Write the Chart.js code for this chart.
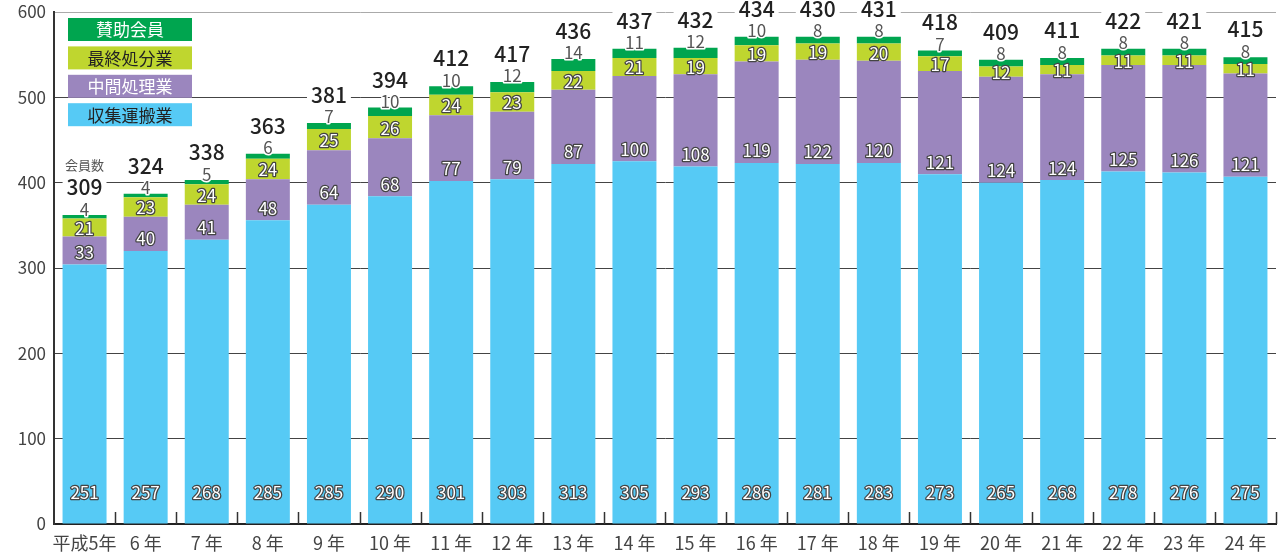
<!DOCTYPE html>
<html lang="ja">
<head>
<meta charset="utf-8">
<script src="https://cdn.jsdelivr.net/npm/chart.js@4"></script>
<style>
html, body { margin: 0; padding: 0; background: #fff; }
#wrap { width: 1280px; height: 556px; }
</style>
</head>
<body>
<div id="wrap"><canvas id="chart" width="1280" height="556"></canvas></div>
<script>
// 年度
const years = ['平成5年', '6 年', '7 年', '8 年', '9 年', '10 年', '11 年', '12 年', '13 年', '14 年',
               '15 年', '16 年', '17 年', '18 年', '19 年', '20 年', '21 年', '22 年', '23 年', '24 年'];

// 各業種の会員数（図中の数字）
const collection   = [251, 257, 268, 285, 285, 290, 301, 303, 313, 305, 293, 286, 281, 283, 273, 265, 268, 278, 276, 275];
const intermediate = [33, 40, 41, 48, 64, 68, 77, 79, 87, 100, 108, 119, 122, 120, 121, 124, 124, 125, 126, 121];
const disposal     = [21, 23, 24, 24, 25, 26, 24, 23, 22, 21, 19, 19, 19, 20, 17, 12, 11, 11, 11, 11];
const supporting   = [4, 4, 5, 6, 7, 10, 10, 12, 14, 11, 12, 10, 8, 8, 7, 8, 8, 8, 8, 8];
const totals       = [309, 324, 338, 363, 381, 394, 412, 417, 436, 437, 432, 434, 430, 431, 418, 409, 411, 422, 421, 415];

// 収集運搬業の棒の高さ（目盛りから読んだ値、図の数字とは一致しない）
const collectionBar = [304, 320, 333, 356, 374, 384, 402, 404, 422, 425, 419, 423, 422, 423, 410, 400, 403, 413, 412, 407];

const yTicks = [0, 100, 200, 300, 400, 500, 600];

const FONT = '"Noto Sans CJK JP", "Noto Sans", sans-serif';
const colors = {
    collection: '#56CAF5',
    intermediate: '#9B86BE',
    disposal: '#BFD62F',
    supporting: '#00A54F'
};

// 縁取り文字
function outlined(ctx, text, x, y, fill, stroke, lw) {
    ctx.lineJoin = 'round';
    ctx.lineWidth = lw;
    ctx.strokeStyle = stroke;
    ctx.strokeText(text, x, y);
    ctx.fillStyle = fill;
    ctx.fillText(text, x, y);
}

const legendItems = [
    { text: '賛助会員', color: colors.supporting, textColor: '#fff' },
    { text: '最終処分業', color: colors.disposal, textColor: '#222' },
    { text: '中間処理業', color: colors.intermediate, textColor: '#fff' },
    { text: '収集運搬業', color: colors.collection, textColor: '#222' }
];

const labelPlugin = {
    id: 'barLabels',
    afterDatasetsDraw(chart) {
        const { ctx, scales: { x, y } } = chart;
        const blue = chart.getDatasetMeta(0).data;
        const purple = chart.getDatasetMeta(1).data;
        const lime = chart.getDatasetMeta(2).data;
        const green = chart.getDatasetMeta(3).data;

        ctx.save();
        ctx.textAlign = 'center';
        ctx.textBaseline = 'middle';

        // x軸の区切り目盛り（内側に短く）
        const step = x.getPixelForValue(1) - x.getPixelForValue(0);
        ctx.strokeStyle = '#333';
        ctx.lineWidth = 1.5;
        for (let i = 0; i < years.length; i++) {
            const px = Math.round(x.getPixelForValue(i) + step / 2) + 0.5;
            ctx.beginPath();
            ctx.moveTo(px, y.bottom);
            ctx.lineTo(px, y.bottom - 12);
            ctx.stroke();
        }

        for (let i = 0; i < years.length; i++) {
            const cx = blue[i].x;

            ctx.font = '17px ' + FONT;
            outlined(ctx, String(collection[i]), cx, y.bottom - 31, '#fff', '#444', 2.5);
            outlined(ctx, String(intermediate[i]), cx, purple[i].base - 12, '#fff', '#444', 2.5);
            outlined(ctx, String(disposal[i]), cx, (lime[i].y + lime[i].base) / 2 + 1, '#fff', '#444', 2.5);
            outlined(ctx, String(supporting[i]), cx, green[i].y - 6, '#555', '#fff', 3);

            // 合計（背景白で目盛り線を切る）
            const ty = green[i].y - 28;
            ctx.font = '500 21px ' + FONT;
            const w = ctx.measureText(String(totals[i])).width;
            ctx.fillStyle = '#fff';
            ctx.fillRect(cx - w / 2 - 4, ty - 9, w + 8, 18);
            ctx.fillStyle = '#222';
            ctx.fillText(String(totals[i]), cx, ty);

            if (i === 0) {
                ctx.font = '13px ' + FONT;
                ctx.fillStyle = '#555';
                ctx.fillText('会員数', cx, ty - 22);
            }
        }

        // 凡例
        ctx.font = '17px ' + FONT;
        legendItems.forEach((item, k) => {
            const top = 18 + k * 28.4;
            ctx.fillStyle = item.color;
            ctx.fillRect(68, top, 124, 23);
            ctx.fillStyle = item.textColor;
            ctx.fillText(item.text, 130, top + 12);
        });

        ctx.restore();
    }
};

new Chart(document.getElementById('chart'), {
    type: 'bar',
    data: {
        labels: years,
        datasets: [
            { label: '収集運搬業', data: collectionBar, backgroundColor: colors.collection },
            { label: '中間処理業', data: intermediate, backgroundColor: colors.intermediate },
            { label: '最終処分業', data: disposal, backgroundColor: colors.disposal },
            { label: '賛助会員', data: supporting, backgroundColor: colors.supporting }
        ]
    },
    options: {
        responsive: false,
        animation: false,
        devicePixelRatio: 1,
        layout: { padding: { top: 12, right: 4, left: 0, bottom: 0 } },
        datasets: {
            bar: { barPercentage: 0.72, categoryPercentage: 1.0, borderWidth: 0 }
        },
        plugins: {
            legend: { display: false },
            tooltip: { enabled: false }
        },
        scales: {
            x: {
                stacked: true,
                grid: { display: false, drawTicks: false },
                border: { display: true, color: '#222', width: 2 },
                ticks: { color: '#444', font: { family: FONT, size: 18 }, padding: 8, maxRotation: 0, autoSkip: false },
                afterFit(scale) { scale.height = 32; scale.paddingLeft = 0; scale.paddingRight = 0; }
            },
            y: {
                stacked: true,
                min: 0,
                max: 600,
                afterBuildTicks(scale) { scale.ticks = yTicks.map(v => ({ value: v })); },
                grid: {
                    drawTicks: false,
                    color: ctx => (ctx.tick && ctx.tick.value === 600 ? '#aaa' : '#444'),
                    lineWidth: 1
                },
                border: { display: true, color: '#333', width: 2 },
                ticks: { color: '#444', font: { family: FONT, size: 17 }, padding: 8 },
                afterFit(scale) { scale.width = 54; scale.paddingTop = 0; scale.paddingBottom = 0; }
            }
        }
    },
    plugins: [labelPlugin]
});
</script>
</body>
</html>
